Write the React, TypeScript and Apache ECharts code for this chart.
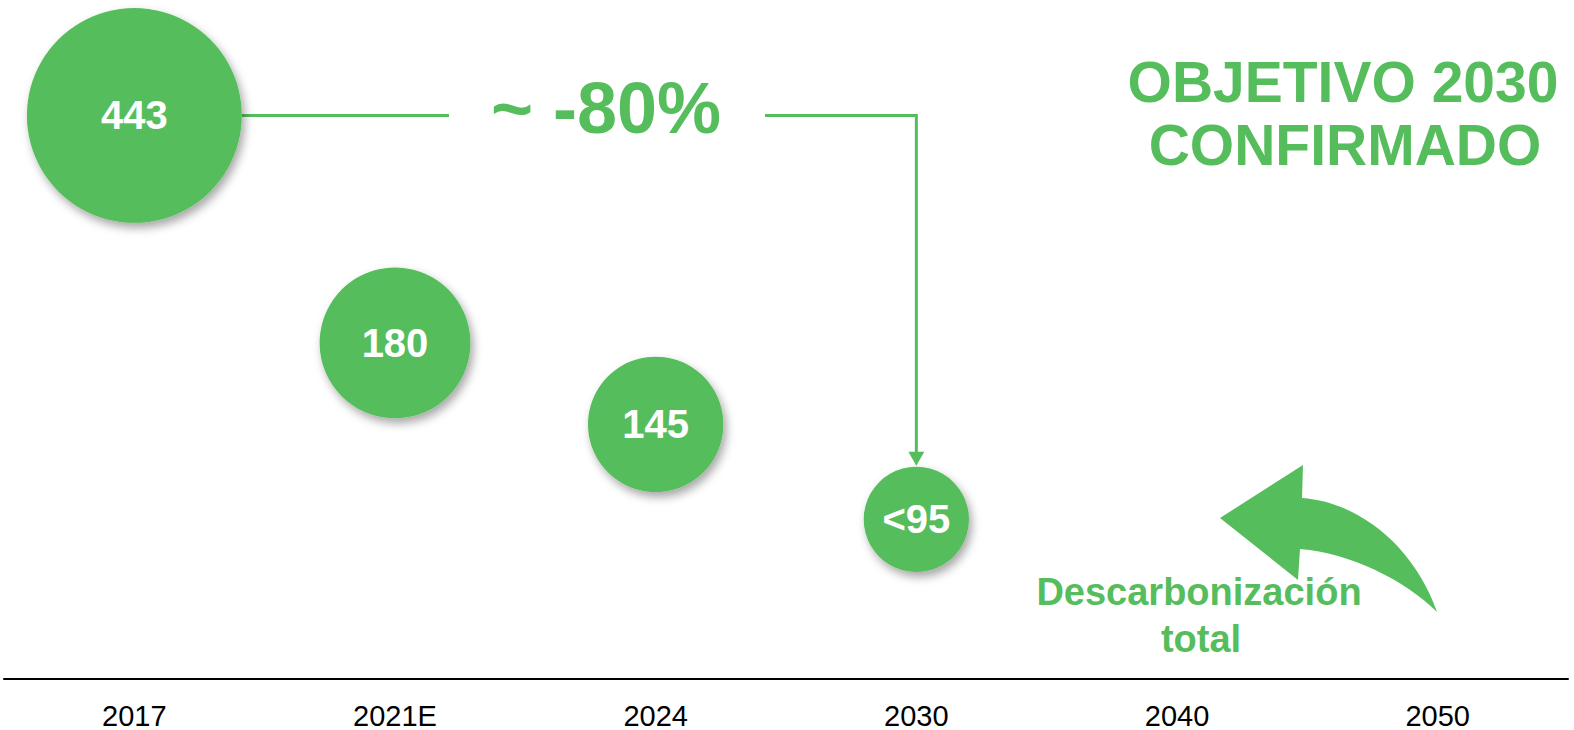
import React, { useEffect, useRef } from "react";
import * as echarts from "echarts";

// ---- data ----
const years = ["2017", "2021E", "2024", "2030", "2040", "2050"];
const bubbleYears = ["2017", "2021E", "2024", "2030"];
const emissions = [443, 180, 145, 95];
const emissionLabels = ["443", "180", "145", "<95"];
const bubbleLevel = [83, 49.5, 37.5, 23.5];
const reductionLabel = "~ -80%";
const titleLines = ["OBJETIVO 2030", "CONFIRMADO"];
const noteLines = ["Descarbonización", "total"];

const GREEN = "#56BD5D";
const FONT = "'Liberation Sans', Arial, Helvetica, sans-serif";

const bubbleDiameter = (v: number) => 71.2 * Math.log(v) - 219;

const ARROW_D =
  "M1220,518 L1303,465 L1302,498 C1360,502 1415,548 1437,612 C1405,580 1350,553 1300,549 L1298,580 Z";

let shapeRegistered = false;
function ensureShape() {
  if (!shapeRegistered) {
    echarts.graphic.registerShape(
      "curvedArrow",
      echarts.graphic.extendPath(ARROW_D, {}) as any
    );
    shapeRegistered = true;
  }
}

const textShadow = {
  shadowColor: "rgba(0,0,0,0.35)",
  shadowBlur: 3,
  shadowOffsetX: 2,
  shadowOffsetY: 2,
};

export default function App() {
  const ref = useRef<HTMLDivElement>(null);

  useEffect(() => {
    if (!ref.current) return;
    ensureShape();
    const chart = echarts.init(ref.current, undefined, { renderer: "svg" });
    chart.setOption({
      animation: false,
      grid: { left: 4, right: 6, top: 0, bottom: 50 },
      xAxis: {
        type: "category",
        data: years,
        boundaryGap: true,
        axisLine: { lineStyle: { color: "#000", width: 2 } },
        axisTick: { show: false },
        axisLabel: { color: "#000", fontSize: 29, fontFamily: FONT, margin: 22 },
        splitLine: { show: false },
      },
      yAxis: { type: "value", min: 0, max: 100, show: false },
      series: [
        {
          type: "scatter",
          data: bubbleYears.map((y, i) => [y, bubbleLevel[i], emissions[i]]),
          symbolSize: (d: any) => bubbleDiameter(d[2]),
          itemStyle: {
            color: GREEN,
            opacity: 1,
            shadowBlur: 10,
            shadowColor: "rgba(0,0,0,0.35)",
            shadowOffsetX: 3,
            shadowOffsetY: 5,
          },
          label: {
            show: true,
            position: "inside",
            formatter: (p: any) => emissionLabels[p.dataIndex],
            color: "#fff",
            fontSize: 40,
            fontWeight: "bold",
            fontFamily: FONT,
          },
          emphasis: { disabled: true },
          z: 2,
        },
      ],
    });

    const p0 = chart.convertToPixel({ gridIndex: 0 }, [bubbleYears[0], bubbleLevel[0]]) as number[];
    const p3 = chart.convertToPixel({ gridIndex: 0 }, [bubbleYears[3], bubbleLevel[3]]) as number[];
    const r0 = bubbleDiameter(emissions[0]) / 2;
    const r3 = bubbleDiameter(emissions[3]) / 2;
    const lineY = p0[1];
    const tipY = p3[1] - r3 - 1;
    const lineStyle = { stroke: GREEN, lineWidth: 3, fill: null };

    chart.setOption({
      graphic: [
        {
          type: "line",
          shape: { x1: p0[0] + r0, y1: lineY, x2: 449, y2: lineY },
          style: lineStyle,
        },
        {
          type: "polyline",
          shape: { points: [[765, lineY], [p3[0], lineY], [p3[0], tipY - 12]] },
          style: lineStyle,
        },
        {
          type: "polygon",
          shape: { points: [[p3[0] - 8, tipY - 14], [p3[0] + 8, tipY - 14], [p3[0], tipY]] },
          style: { fill: GREEN },
        },
        {
          type: "text",
          x: 606,
          y: 108,
          style: {
            text: reductionLabel,
            fill: GREEN,
            font: `bold 72px ${FONT}`,
            align: "center",
            verticalAlign: "middle",
            ...textShadow,
          },
        },
        {
          type: "text",
          x: 1343,
          y: 82,
          style: {
            text: titleLines[0],
            fill: GREEN,
            font: `bold 57px ${FONT}`,
            align: "center",
            verticalAlign: "middle",
            ...textShadow,
          },
        },
        {
          type: "text",
          x: 1345,
          y: 145,
          style: {
            text: titleLines[1],
            fill: GREEN,
            font: `bold 57px ${FONT}`,
            align: "center",
            verticalAlign: "middle",
            ...textShadow,
          },
        },
        {
          type: "curvedArrow",
          x: 0,
          y: 0,
          style: { fill: GREEN },
        },
        {
          type: "text",
          x: 1199,
          y: 592,
          style: {
            text: noteLines[0],
            fill: GREEN,
            font: `bold 38px ${FONT}`,
            align: "center",
            verticalAlign: "middle",
          },
        },
        {
          type: "text",
          x: 1201,
          y: 639,
          style: {
            text: noteLines[1],
            fill: GREEN,
            font: `bold 38px ${FONT}`,
            align: "center",
            verticalAlign: "middle",
          },
        },
      ],
    });

    return () => chart.dispose();
  }, []);

  return (
    <div
      ref={ref}
      style={{ position: "fixed", left: 0, top: 0, width: 1574, height: 730, background: "#fff" }}
    />
  );
}
